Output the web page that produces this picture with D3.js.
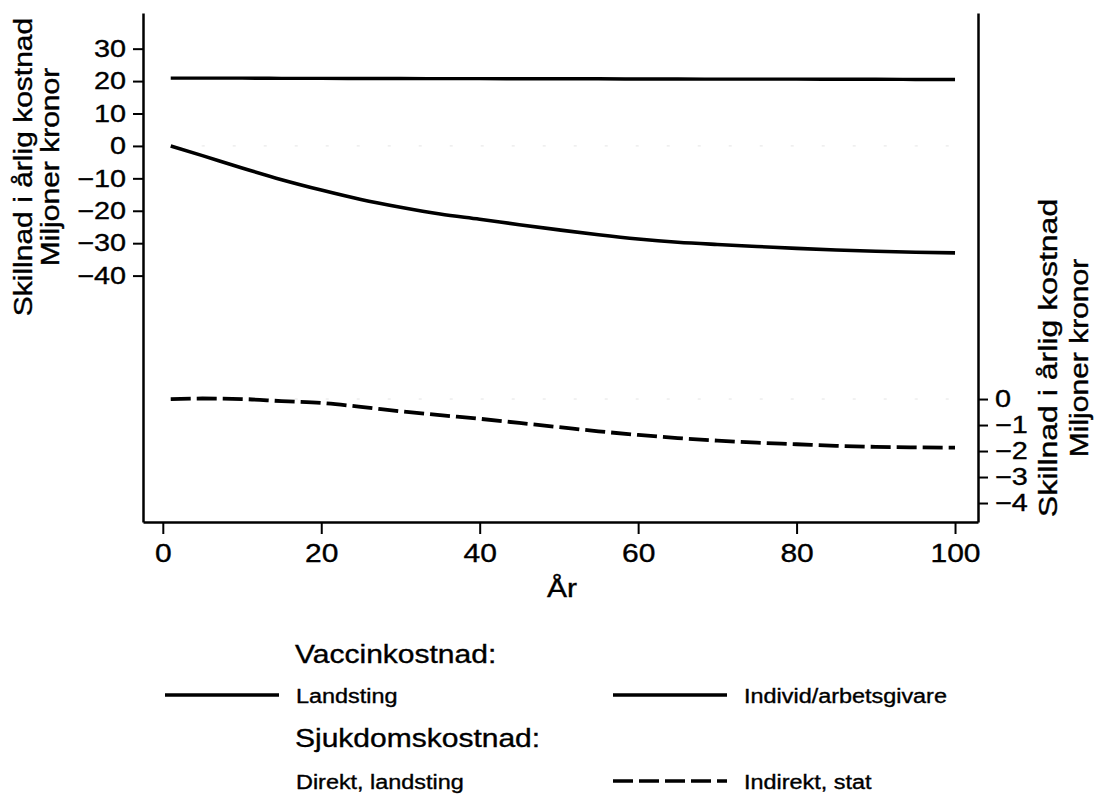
<!DOCTYPE html>
<html>
<head>
<meta charset="utf-8">
<script src="https://cdn.jsdelivr.net/npm/d3@7"></script>
<style>
  body { margin: 0; background: #fff; }
  svg text { font-family: "Liberation Sans", Arial, Helvetica, sans-serif; fill: #000; stroke: #000; stroke-width: 0.35px; }
</style>
</head>
<body>
<svg id="chart" width="1095" height="796"></svg>
<script>
// år och värden
const years = [1, 5, 10, 15, 20, 25, 30, 35, 40, 45, 50, 55, 60, 65, 70, 75, 80, 85, 90, 95, 100];
// vaccinkostnad, vänster axel
const vaccLandsting = [20.9, 20.9, 20.9, 20.85, 20.85, 20.8, 20.8, 20.75, 20.75, 20.7, 20.7, 20.7, 20.65, 20.65, 20.6, 20.6, 20.6, 20.55, 20.55, 20.5, 20.5];
const vaccIndivid = [0, -3.0, -6.8, -10.4, -13.6, -16.5, -18.9, -21.0, -22.6, -24.3, -25.9, -27.4, -28.7, -29.7, -30.4, -31.0, -31.6, -32.1, -32.5, -32.8, -33.0];
// sjukdomskostnad, höger axel
const sjukDirekt = [0, 0, 0, 0, 0, 0, 0, 0, 0, 0, 0, 0, 0, 0, 0, 0, 0, 0, 0, 0, 0];
const sjukIndirekt = [0, 0.02, 0, -0.08, -0.15, -0.3, -0.47, -0.62, -0.76, -0.92, -1.08, -1.24, -1.38, -1.5, -1.6, -1.68, -1.74, -1.8, -1.84, -1.86, -1.87];

const xTicks = [0, 20, 40, 60, 80, 100];
const leftTicks = [30, 20, 10, 0, -10, -20, -30, -40];
const rightTicks = [0, -1, -2, -3, -4];

const STRETCH = 1.2;

const svg = d3.select("#chart");

var x = d3.scaleLinear().domain([-2.5, 102.9]).range([143, 978]);
var yL = d3.scaleLinear().domain([-116, 41]).range([522, 13]);
var yR = d3.scaleLinear().domain([-4.73, 14.85]).range([522, 13]);

// bredare text, som i originalet
function stretch(sel, k) {
    sel.each(function() {
        const w = this.getComputedTextLength();
        d3.select(this).attr("textLength", w * k).attr("lengthAdjust", "spacingAndGlyphs");
    });
}

function styleAxis(g, size) {
    g.select(".domain").attr("stroke", "#000").attr("stroke-width", 2.5);
    g.selectAll(".tick line").attr("stroke", "#000").attr("stroke-width", 2);
    g.selectAll(".tick text").attr("font-size", size).attr("fill", "#000");
    stretch(g.selectAll(".tick text"), STRETCH);
}

// axlar
var gx = svg.append("g")
    .attr("transform", "translate(0,522)")
    .call(d3.axisBottom(x).tickValues(xTicks).tickSize(12).tickSizeOuter(0).tickPadding(10));
gx.call(styleAxis, 25);

var gl = svg.append("g")
    .attr("transform", "translate(143,0)")
    .call(d3.axisLeft(yL).tickValues(leftTicks).tickSize(10).tickSizeOuter(0).tickPadding(7));
gl.call(styleAxis, 24);

var gr = svg.append("g")
    .attr("transform", "translate(978,0)")
    .call(d3.axisRight(yR).tickValues(rightTicks).tickSize(10).tickSizeOuter(0).tickPadding(7));
gr.call(styleAxis, 24);

// axeltitlar
svg.append("text")
    .attr("x", 562).attr("y", 597)
    .attr("text-anchor", "middle").attr("font-size", 25)
    .text("År")
    .call(stretch, STRETCH);

var leftTitle = svg.append("g").attr("transform", "translate(0,167) rotate(-90)");
leftTitle.append("text").attr("x", 0).attr("y", 32).attr("text-anchor", "middle").attr("font-size", 25)
    .text("Skillnad i årlig kostnad").call(stretch, STRETCH);
leftTitle.append("text").attr("x", 0).attr("y", 59).attr("text-anchor", "middle").attr("font-size", 25)
    .text("Miljoner kronor").call(stretch, STRETCH);

var rightTitle = svg.append("g").attr("transform", "translate(1000,358) rotate(-90)");
rightTitle.append("text").attr("x", 0).attr("y", 57).attr("text-anchor", "middle").attr("font-size", 25)
    .text("Skillnad i årlig kostnad").call(stretch, 1.28);
rightTitle.append("text").attr("x", 0).attr("y", 88).attr("text-anchor", "middle").attr("font-size", 25)
    .text("Miljoner kronor").call(stretch, STRETCH);

// linjer
const lineL = d3.line().x((d, i) => x(years[i])).y(d => yL(d)).curve(d3.curveMonotoneX);
const lineR = d3.line().x((d, i) => x(years[i])).y(d => yR(d)).curve(d3.curveMonotoneX);

const series = [
    {name: "direkt", vals: sjukDirekt, gen: lineR, color: "#e4e4e4", w: 1, dash: "3,28"},
    {name: "direktL", vals: sjukDirekt, gen: lineL, color: "#e4e4e4", w: 1, dash: "3,28"},
    {name: "landsting", vals: vaccLandsting, gen: lineL, color: "#000", w: 3.4, dash: null},
    {name: "individ", vals: vaccIndivid, gen: lineL, color: "#000", w: 3.6, dash: null},
    {name: "indirekt", vals: sjukIndirekt, gen: lineR, color: "#000", w: 3.8, dash: "20,6"}
];

svg.append("g").selectAll("path")
    .data(series)
    .enter().append("path")
        .attr("d", d => d.gen(d.vals))
        .attr("fill", "none")
        .attr("stroke", d => d.color)
        .attr("stroke-width", d => d.w)
        .attr("stroke-dasharray", d => d.dash)
        .attr("stroke-linecap", "butt");

// legend
const legendHeads = ["Vaccinkostnad:", "Sjukdomskostnad:"];
const legendItems = [
    {label: "Landsting", row: 0, col: 0, dash: null, color: "#000"},
    {label: "Individ/arbetsgivare", row: 0, col: 1, dash: null, color: "#000"},
    {label: "Direkt, landsting", row: 1, col: 0, dash: null, color: "#fff"},
    {label: "Indirekt, stat", row: 1, col: 1, dash: "20,6", color: "#000"}
];

var lg = svg.append("g");
lg.selectAll("text.head")
    .data(legendHeads)
    .enter().append("text")
        .attr("class", "head")
        .attr("x", 295)
        .attr("y", (d, i) => 663 + i * 84)
        .attr("font-size", 25)
        .text(d => d)
        .call(stretch, STRETCH);

const colX = [165, 613];
const rowY = [695, 781];
lg.selectAll("line.sample")
    .data(legendItems)
    .enter().append("line")
        .attr("class", "sample")
        .attr("x1", d => colX[d.col]).attr("x2", d => colX[d.col] + 114)
        .attr("y1", d => rowY[d.row]).attr("y2", d => rowY[d.row])
        .attr("stroke", d => d.color)
        .attr("stroke-width", 3.4)
        .attr("stroke-dasharray", d => d.dash);

lg.selectAll("text.item")
    .data(legendItems)
    .enter().append("text")
        .attr("class", "item")
        .attr("x", d => colX[d.col] + 131)
        .attr("y", d => rowY[d.row] + 8)
        .attr("font-size", 19.5)
        .text(d => d.label)
        .call(stretch, STRETCH);
</script>
</body>
</html>
